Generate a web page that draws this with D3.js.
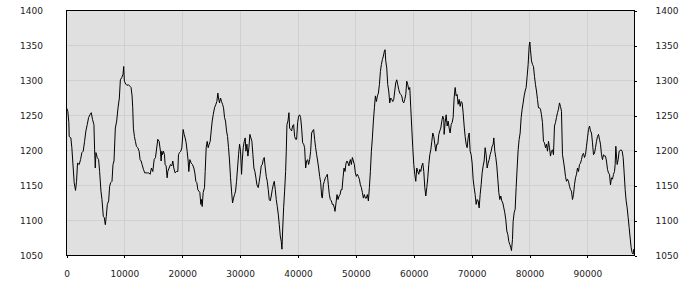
<!DOCTYPE html>
<html>
<head>
<meta charset="utf-8">
<script src="https://cdn.jsdelivr.net/npm/d3@7"></script>
<style>
  body { margin: 0; background: #fff; }
  svg text { font-family: "DejaVu Sans", Verdana, sans-serif; font-size: 9px; fill: #222; }
</style>
</head>
<body>
<div id="chart"></div>
<script>
// axis ticks
const yTicks = [1050, 1100, 1150, 1200, 1250, 1300, 1350, 1400];
const xTicks = [0, 10000, 20000, 30000, 40000, 50000, 60000, 70000, 80000, 90000];
const xEnd = 98140;

// series as [x, value] pairs, one array per stretch
const walkA = [[0,1261],[231,1256],[405,1240],[462,1220],[751,1218],[925,1204],[1156,1175],[1329,1154],[1561,1143],[1734,1156],
  [1907,1182],[2196,1180],[2428,1187],[2659,1197],[2890,1199],[3121,1213],[3352,1228],[3584,1237],[3815,1247],[4046,1251],
  [4277,1254],[4508,1244],[4740,1237],[4855,1201],[4971,1175],[5086,1197],[5318,1190],[5549,1187],[5722,1170],[5953,1142],
  [6127,1130],[6358,1106],[6531,1104],[6705,1094],[6878,1106],[7052,1123],[7283,1128],[7456,1149],[7630,1154],[7861,1156],
  [8034,1180],[8208,1185],[8439,1232],[8670,1242],[8901,1261],[9132,1275],[9306,1301],[9537,1304],[9768,1309],[9884,1320],
  [10000,1299],[10231,1295],[10462,1293],[10693,1294],[10924,1292],[11155,1290],[11329,1278],[11444,1261],[11560,1232],[11733,1220],
  [11907,1213],[12080,1206],[12311,1204],[12543,1199],[12716,1187],[12889,1185],[13063,1180],[13294,1173],[13525,1168],[13756,1168],
  [13988,1168],[14219,1168],[14450,1166],[14681,1175],[14912,1170],[15144,1187],[15375,1190]];

const walkB = [[15772,1216],[16003,1213],[16234,1199],[16349,1185],[16464,1199],[16580,1194],[16753,1199],[16926,1194],[17041,1180],[17214,1178],
  [17387,1161],[17502,1170],[17733,1175],[17964,1180],[18195,1178],[18368,1185],[18541,1175],[18771,1168],[19002,1170],[19233,1170],
  [19348,1194],[19521,1197],[19752,1199],[19925,1204],[20155,1230],[20328,1223],[20501,1218],[20674,1211],[20847,1199],[21020,1185],
  [21136,1170],[21309,1187],[21540,1182],[21770,1180],[22001,1175],[22174,1168],[22347,1156],[22520,1154],[22693,1144],[22866,1142],
  [23039,1140],[23212,1123],[23327,1130],[23442,1120],[23615,1140],[23846,1147],[23962,1170],[24135,1204],[24308,1213],[24481,1204],
  [24654,1209],[24827,1213],[25000,1228],[25173,1242],[25346,1251],[25576,1261],[25807,1266],[25980,1270],[26153,1282],[26268,1275],
  [26441,1268],[26614,1275],[26787,1270],[26960,1266],[27133,1261],[27306,1247],[27479,1242],[27652,1228],[27825,1220],[27998,1204],
  [28171,1185],[28344,1161],[28517,1142],[28690,1125],[28863,1132],[29036,1137],[29209,1142],[29382,1156],[29555,1175],[29728,1194],
  [29901,1209],[30074,1199],[30247,1166],[30363,1185],[30536,1204],[30709,1213],[30882,1218],[30997,1199],[31170,1209],[31343,1192],
  [31516,1204],[31689,1223],[31862,1218]];

const walkC = [[32034,1213],[32207,1194],[32380,1175],[32553,1170],[32726,1161],[32899,1151],[33130,1147],[33303,1156],[33476,1166],[33649,1178],
  [33822,1180],[33995,1187],[34168,1190],[34341,1175],[34514,1163],[34687,1156],[34860,1144],[35033,1130],[35206,1128],[35379,1135],
  [35552,1144],[35725,1151],[35898,1156],[36071,1144],[36244,1130],[36417,1120],[36590,1109],[36763,1094],[36936,1078],[37109,1070],
  [37225,1059],[37340,1085],[37513,1118],[37686,1142],[37859,1170],[37974,1199],[38089,1237],[38263,1242],[38436,1254],[38551,1232],
  [38724,1230],[38897,1228],[39070,1235],[39243,1237],[39416,1220],[39589,1216],[39762,1216],[39935,1240],[40108,1249],[40281,1251],
  [40454,1247],[40627,1232],[40800,1211],[40973,1209],[41146,1204],[41319,1175],[41492,1185],[41665,1187],[41838,1180],[42011,1187],
  [42184,1199],[42357,1225],[42530,1228],[42703,1230],[42876,1216],[43049,1204],[43222,1194],[43395,1185],[43568,1175],[43741,1163],
  [43914,1154],[44087,1135],[44203,1132],[44376,1151],[44549,1156],[44722,1161],[44895,1163],[45068,1166],[45241,1151],[45414,1137],
  [45587,1130],[45760,1128],[45933,1123],[46106,1123],[46279,1118],[46394,1113],[46567,1125],[46740,1137],[46913,1130],[47086,1135],
  [47259,1137],[47432,1144],[47605,1144],[47778,1161],[47951,1175],[48124,1170],[48297,1182],[48470,1185],[48643,1182],[48816,1178]];

const walkD = [[48873,1182],[49046,1187],[49219,1180],[49392,1190],[49565,1185],[49738,1180],[49911,1168],[50084,1163],[50257,1166],[50430,1163],
  [50603,1159],[50776,1151],[50949,1147],[51122,1140],[51295,1132],[51468,1137],[51641,1132],[51814,1132],[51987,1137],[52160,1128],
  [52333,1147],[52506,1170],[52679,1199],[52852,1218],[53025,1242],[53198,1261],[53371,1278],[53544,1270],[53717,1278],[53890,1282],
  [54063,1294],[54236,1313],[54409,1323],[54582,1330],[54755,1335],[54928,1342],[55044,1344],[55159,1328],[55332,1318],[55505,1294],
  [55678,1285],[55851,1268],[56024,1275],[56197,1273],[56370,1270],[56543,1273],[56716,1285],[56889,1297],[57062,1301],[57235,1294],
  [57408,1287],[57581,1282],[57754,1280],[57927,1278],[58100,1270],[58273,1268],[58446,1273],[58619,1280],[58792,1299],[58965,1294],
  [59138,1287],[59311,1290],[59484,1261],[59657,1232],[59830,1204],[60003,1180],[60176,1166],[60349,1156],[60522,1175],[60695,1170],
  [60868,1166],[61041,1173],[61214,1170],[61387,1178],[61560,1182],[61733,1170],[61906,1147],[62079,1135],[62252,1147],[62425,1161],
  [62598,1180],[62771,1194],[62944,1201],[63117,1213],[63290,1225],[63463,1220],[63636,1209],[63809,1199],[63982,1209],[64155,1209],
  [64328,1223],[64501,1228],[64674,1232],[64847,1242],[65020,1249],[65193,1244]];

const walkE = [[65249,1223],[65422,1240],[65595,1251],[65768,1235],[65940,1242],[66113,1232],[66286,1225],[66459,1237],[66632,1240],[66804,1247],
  [66977,1275],[67150,1290],[67323,1278],[67496,1280],[67668,1266],[67841,1273],[68014,1263],[68187,1270],[68360,1268],[68532,1254],
  [68705,1235],[68878,1220],[69051,1209],[69224,1204],[69396,1218],[69569,1225],[69742,1199],[69915,1194],[70088,1182],[70260,1159],
  [70433,1147],[70606,1137],[70779,1123],[70952,1130],[71124,1128],[71297,1118],[71470,1137],[71643,1151],[71816,1168],[71988,1178],
  [72161,1185],[72334,1204],[72507,1194],[72680,1175],[72852,1182],[73025,1187],[73198,1194],[73371,1199],[73544,1206],[73716,1209],
  [73832,1218],[74004,1199],[74177,1190],[74350,1178],[74523,1159],[74696,1140],[74868,1130],[75041,1135],[75214,1128],[75387,1125],
  [75560,1118],[75732,1111],[75905,1101],[76078,1085],[76251,1080],[76424,1070],[76596,1066],[76769,1061],[76884,1057],[77057,1073],
  [77172,1099],[77345,1111],[77518,1116],[77691,1147],[77864,1175],[78036,1201],[78209,1216],[78382,1225],[78555,1247],[78728,1259],
  [78900,1268],[79073,1278],[79246,1285],[79419,1290],[79592,1306],[79764,1323],[79937,1349],[80052,1355],[80168,1344],[80340,1328],
  [80513,1323],[80686,1320],[80859,1306],[81032,1294],[81204,1285],[81377,1273],[81550,1261]];

const walkF = [[81723,1261],[81896,1259],[82068,1251],[82241,1240],[82414,1213],[82587,1211],[82760,1204],[82932,1209],[83105,1199],[83278,1213],
  [83451,1204],[83624,1192],[83796,1199],[83969,1201],[84142,1194],[84315,1235],[84488,1240],[84660,1247],[84833,1254],[85006,1259],
  [85179,1268],[85352,1263],[85524,1256],[85697,1194],[85870,1185],[86043,1175],[86216,1163],[86388,1156],[86561,1159],[86734,1156],
  [86907,1149],[87080,1144],[87252,1142],[87425,1130],[87598,1137],[87771,1151],[87944,1161],[88116,1166],[88289,1175],[88462,1170],
  [88635,1180],[88808,1182],[88980,1187],[89153,1194],[89326,1196],[89499,1190],[89672,1194],[89844,1206],[90017,1218],[90190,1230],
  [90363,1235],[90536,1228],[90708,1225],[90881,1211],[91054,1194],[91227,1196],[91400,1204],[91572,1213],[91745,1220],[91918,1223],
  [92091,1216],[92264,1209],[92436,1194],[92609,1187],[92782,1194],[92955,1192],[93128,1192],[93300,1185],[93473,1173],[93646,1168],
  [93819,1166],[93992,1151],[94164,1161],[94337,1159],[94510,1166],[94683,1170],[94798,1180],[94914,1206],[95029,1192],[95144,1180],
  [95317,1187],[95490,1199],[95663,1200],[95836,1201],[96008,1199],[96181,1190],[96354,1168],[96527,1144],[96700,1128],[96872,1118],
  [97045,1104],[97218,1090],[97391,1075],[97564,1061],[97736,1054],[97909,1052],[98024,1059],[98140,1054]];

const series = [].concat(walkA, walkB, walkC, walkD, walkE, walkF);

// set the dimensions and margins of the graph
const margin = { top: 10.5, right: 65.5, bottom: 44.5, left: 66.5 },
  width = 700 - margin.left - margin.right,
  height = 300 - margin.top - margin.bottom;

const svg = d3.select("#chart")
  .append("svg")
  .attr("width", 700)
  .attr("height", 300)
  .append("g")
  .attr("transform", "translate(" + margin.left + "," + margin.top + ")");

const x = d3.scaleLinear().domain([0, xEnd]).range([0, width]);
const y = d3.scaleLinear().domain([yTicks[0], yTicks[yTicks.length - 1]]).range([height, 0]);
const plain = d3.format("d");

// plot background
svg.append("rect")
  .attr("width", width)
  .attr("height", height)
  .attr("fill", "#e0e0e0");

// grid
svg.append("g")
  .selectAll("line")
  .data(yTicks)
  .enter().append("line")
  .attr("x1", 0).attr("x2", width)
  .attr("y1", d => y(d)).attr("y2", d => y(d))
  .attr("stroke", "#d0d0d0")
  .attr("shape-rendering", "crispEdges");

svg.append("g")
  .selectAll("line")
  .data(xTicks)
  .enter().append("line")
  .attr("x1", d => x(d)).attr("x2", d => x(d))
  .attr("y1", 0).attr("y2", height)
  .attr("stroke", "#d0d0d0")
  .attr("shape-rendering", "crispEdges");

// the line
svg.append("path")
  .datum(series)
  .attr("fill", "none")
  .attr("stroke", "#000")
  .attr("stroke-width", 1)
  .attr("d", d3.line().x(d => x(d[0])).y(d => y(d[1])));

// axes
const left = svg.append("g")
  .call(d3.axisLeft(y).tickValues(yTicks).tickSize(0).tickPadding(23.5).tickFormat(plain));
const right = svg.append("g")
  .attr("transform", "translate(" + width + ",0)")
  .call(d3.axisRight(y).tickValues(yTicks).tickSize(2).tickPadding(19).tickFormat(plain));
const bottom = svg.append("g")
  .attr("transform", "translate(0," + height + ")")
  .call(d3.axisBottom(x).tickValues(xTicks).tickSize(2).tickPadding(13).tickFormat(plain));

[left, right, bottom].forEach(function (a) {
  a.select(".domain").remove();
  a.selectAll("line").attr("shape-rendering", "crispEdges");
});

// frame
svg.append("rect")
  .attr("width", width)
  .attr("height", height)
  .attr("fill", "none")
  .attr("stroke", "#000")
  .attr("shape-rendering", "crispEdges");
</script>
</body>
</html>
